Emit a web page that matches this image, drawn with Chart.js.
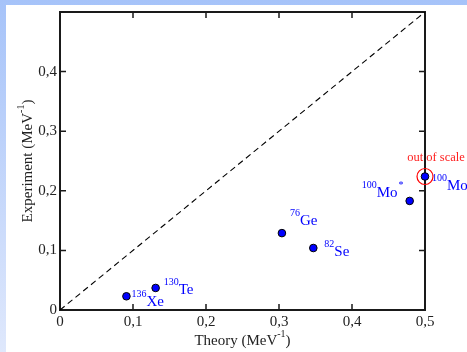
<!DOCTYPE html>
<html lang="en">

<head>
    <meta charset="UTF-8">
    <title>Theory vs Experiment</title>
    <script src="https://cdn.jsdelivr.net/npm/chart.js"></script>
    <style>
        html, body { margin: 0; padding: 0; }
        body {
            width: 467px; height: 352px; position: relative; overflow: hidden;
            background: linear-gradient(#a6c3f9, #dfe8fc);
        }
        .sheet { position: absolute; left: 6px; top: 5px; right: 0; bottom: 0; background: #fff; }
        .wrap { position: absolute; left: 0; top: 0; width: 467px; height: 352px; }
    </style>
</head>

<body>
    <div class="sheet"></div>
    <div class="wrap"><canvas id="myChart" width="467" height="352"></canvas></div>

    <script>
        // values
        const theoryX = [0.091, 0.131, 0.304, 0.347, 0.479, 0.5];
        const experimentY = [0.023, 0.037, 0.129, 0.104, 0.183, 0.224];
        const massNumbers = ['136', '130', '76', '82', '100', '100'];
        const elements = ['Xe', 'Te', 'Ge', 'Se', 'Mo', 'Mo'];
        const marks = ['', '', '', '', '*', ''];
        const diagonalX = [0, 0.5];
        const diagonalY = [0, 0.5];
        const tickValues = [0, 0.1, 0.2, 0.3, 0.4, 0.5];
        const outOfScaleIndex = 5;

        // label placement relative to the point (px)
        const labelOffsets = [[5, 9.5], [8, 6], [8, -8], [11, 8], [-48, -4], [7, 14]];

        const serif = "'Liberation Serif', 'Times New Roman', serif";
        const fmt = v => String(Math.round(v * 10) / 10).replace('.', ',');

        const ctx = document.getElementById('myChart');

        function drawSup(c, x, y, sup, main, extra) {
            c.textAlign = 'left';
            c.textBaseline = 'alphabetic';
            c.font = '10px ' + serif;
            c.fillText(sup, x, y - 9);
            x += c.measureText(sup).width;
            c.font = '15px ' + serif;
            c.fillText(main, x, y);
            x += c.measureText(main).width;
            if (extra) {
                c.font = '10px ' + serif;
                c.fillText(extra, x + 1, y - 9);
            }
        }

        const framePlugin = {
            id: 'frame',
            beforeDatasetsDraw(chart) {
                const c = chart.ctx;
                const a = chart.chartArea;
                const xs = chart.scales.x, ys = chart.scales.y;
                c.save();
                c.strokeStyle = '#1a1a1a';
                c.lineWidth = 2;
                c.strokeRect(a.left, a.top, a.right - a.left, a.bottom - a.top);
                c.lineWidth = 1.5;
                c.beginPath();
                tickValues.forEach(v => {
                    const px = xs.getPixelForValue(v);
                    c.moveTo(px, a.bottom); c.lineTo(px, a.bottom - 6);
                    c.moveTo(px, a.top); c.lineTo(px, a.top + 6);
                    const py = ys.getPixelForValue(v);
                    c.moveTo(a.left, py); c.lineTo(a.left + 6, py);
                    c.moveTo(a.right, py); c.lineTo(a.right - 6, py);
                });
                c.stroke();

                // axis titles
                c.fillStyle = '#222';
                const cx = (a.left + a.right) / 2;
                c.font = '15px ' + serif;
                const w1 = c.measureText('Theory (MeV').width;
                c.font = '10px ' + serif;
                const w2 = c.measureText('-1').width;
                c.font = '15px ' + serif;
                const w3 = c.measureText(')').width;
                let x0 = cx - (w1 + w2 + w3) / 2;
                c.textAlign = 'left';
                c.textBaseline = 'alphabetic';
                c.fillText('Theory (MeV', x0, 345);
                c.font = '10px ' + serif;
                c.fillText('-1', x0 + w1, 337);
                c.font = '15px ' + serif;
                c.fillText(')', x0 + w1 + w2, 345);

                c.save();
                c.translate(32, (a.top + a.bottom) / 2);
                c.rotate(-Math.PI / 2);
                const e1 = c.measureText('Experiment (MeV').width;
                x0 = -(e1 + w2 + w3) / 2;
                c.fillText('Experiment (MeV', x0, 0);
                c.font = '10px ' + serif;
                c.fillText('-1', x0 + e1, -8);
                c.font = '15px ' + serif;
                c.fillText(')', x0 + e1 + w2, 0);
                c.restore();
                c.restore();
            },
            afterDatasetsDraw(chart) {
                const c = chart.ctx;
                const xs = chart.scales.x, ys = chart.scales.y;
                c.save();
                c.fillStyle = '#0000ff';
                theoryX.forEach((v, i) => {
                    const px = xs.getPixelForValue(v);
                    const py = ys.getPixelForValue(experimentY[i]);
                    drawSup(c, px + labelOffsets[i][0], py + labelOffsets[i][1], massNumbers[i], elements[i], marks[i]);
                });
                const ox = xs.getPixelForValue(theoryX[outOfScaleIndex]);
                const oy = ys.getPixelForValue(experimentY[outOfScaleIndex]);
                c.strokeStyle = '#ff0000';
                c.lineWidth = 1.2;
                c.beginPath();
                c.arc(ox, oy, 8, 0, Math.PI * 2);
                c.stroke();
                c.fillStyle = '#ff2020';
                c.font = '12.5px ' + serif;
                c.textAlign = 'center';
                c.textBaseline = 'alphabetic';
                c.fillText('out of scale', ox + 11, oy - 15);
                c.restore();
            }
        };

        new Chart(ctx, {
            type: 'scatter',
            data: {
                datasets: [{
                    type: 'line',
                    data: diagonalX.map((x, i) => ({ x: x, y: diagonalY[i] })),
                    borderColor: '#000',
                    borderWidth: 1.1,
                    borderDash: [6, 4],
                    pointRadius: 0,
                    fill: false
                }, {
                    data: theoryX.map((x, i) => ({ x: x, y: experimentY[i] })),
                    backgroundColor: '#0000ff',
                    borderColor: '#000',
                    borderWidth: 1,
                    pointRadius: 3.8,
                    clip: false
                }]
            },
            options: {
                responsive: false,
                animation: false,
                events: [],
                layout: { padding: { left: 0, right: 42, top: 8, bottom: 0 } },
                plugins: { legend: { display: false }, tooltip: { enabled: false } },
                scales: {
                    x: {
                        type: 'linear', min: 0, max: 0.5,
                        afterFit: s => { s.height = 42; },
                        afterBuildTicks: s => { s.ticks = tickValues.map(v => ({ value: v })); },
                        grid: { display: false, drawTicks: false },
                        border: { display: false },
                        ticks: { padding: 3, color: '#222', font: { family: serif, size: 15 }, callback: v => fmt(v) }
                    },
                    y: {
                        type: 'linear', min: 0, max: 0.5,
                        afterFit: s => { s.width = 60; },
                        afterBuildTicks: s => { s.ticks = tickValues.map(v => ({ value: v })); },
                        grid: { display: false, drawTicks: false },
                        border: { display: false },
                        ticks: { padding: 3, color: '#222', font: { family: serif, size: 15 }, callback: v => v >= 0.45 ? '' : fmt(v) }
                    }
                }
            },
            plugins: [framePlugin]
        });
    </script>
</body>

</html>
